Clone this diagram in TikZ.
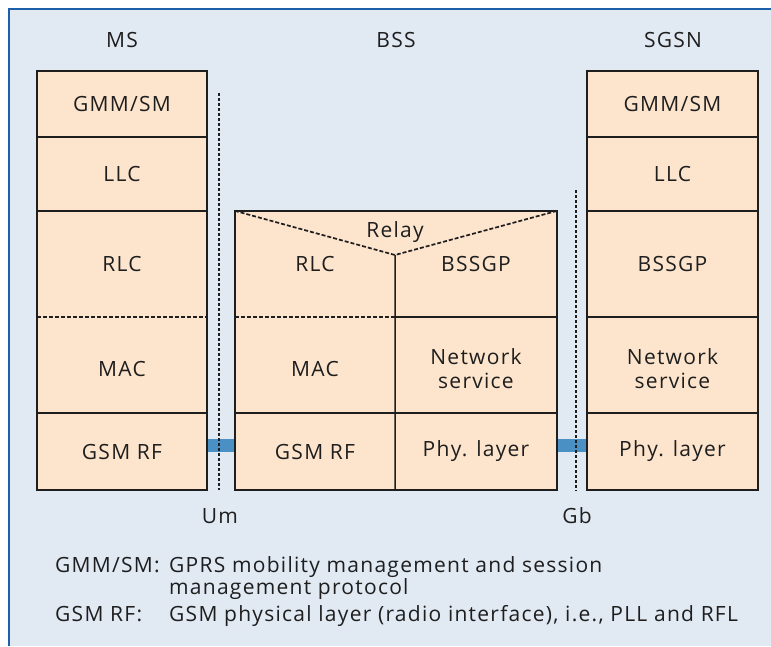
\documentclass[tikz,border=0pt]{standalone}
\usepackage{fontspec}
\setmainfont{Open Sans}[LetterSpace=6]
\definecolor{panelbg}{RGB}{225,233,243}
\definecolor{panelline}{RGB}{30,95,170}
\definecolor{layerfill}{RGB}{253,229,205}
\definecolor{linkblue}{RGB}{74,144,196}
\definecolor{ink}{RGB}{30,30,30}
\newcommand{\stacked}[2]{\raisebox{-7pt}[\height][\depth]{\begin{tabular}{@{}c@{}}#1\\#2\end{tabular}}}

\begin{document}
\begin{tikzpicture}[x=1pt,y=-1pt,
  font=\fontsize{21}{24}\selectfont,
  cell/.style={fill=layerfill,inner sep=0pt,text=ink,align=center},
  mscol/.style={cell,minimum width=170pt},
  bssleft/.style={cell,minimum width=160pt},
  bssright/.style={cell,minimum width=162pt},
  sgsncol/.style={cell,minimum width=171pt},
  edge/.style={draw=ink,line width=1.5pt},
  sepdash/.style={draw=ink,line width=1.7pt,dash pattern=on 4pt off 2pt},
  iface/.style={draw=ink,line width=1.6pt,dash pattern=on 3pt off 2pt},
  link/.style={draw=linkblue,line width=13pt},
  legend/.style={inner sep=0pt,text=ink,anchor=base west}]

  \useasboundingbox (0,0) rectangle (771,646);
  \fill[panelbg] (9,9) rectangle (771,646);
  \draw[panelline,line width=2pt] (9,646) -- (9,9) -- (771,9);

  % MS stack
  \draw (122,104) node[mscol,minimum height=66pt] (msgmm) {GMM/SM};
  \draw (122,174) node[mscol,minimum height=74pt] (msllc) {LLC};
  \draw (122,264) node[mscol,minimum height=106pt] (msrlc) {RLC};
  \draw (122,365) node[mscol,minimum height=96pt] (msmac) {\raisebox{-4pt}[\height][\depth]{MAC}};
  \draw (122,451.5) node[mscol,minimum height=77pt] (msrf) {GSM RF};

  % BSS stack
  \draw (315,264) node[bssleft,minimum height=106pt] (bssrlc) {RLC};
  \draw (315,365) node[bssleft,minimum height=96pt] (bssmac) {\raisebox{-4pt}[\height][\depth]{MAC}};
  \draw (315,451.5) node[bssleft,minimum height=77pt] (bssrf) {GSM RF};
  \draw (476,264) node[bssright,minimum height=106pt] (bssgp) {BSSGP};
  \draw (476,365) node[bssright,minimum height=96pt] (bssns) {\stacked{Network}{service}};
  \draw (476,451.5) node[bssright,minimum height=77pt] (bssphy) {Phy. layer};
  \coordinate (apex) at (395,255);

  % SGSN stack
  \draw (672.5,104) node[sgsncol,minimum height=66pt] (sggmm) {GMM/SM};
  \draw (672.5,174) node[sgsncol,minimum height=74pt] (sgllc) {LLC};
  \draw (672.5,264) node[sgsncol,minimum height=106pt] (sgbssgp) {BSSGP};
  \draw (672.5,365) node[sgsncol,minimum height=96pt] (sgns) {\stacked{Network}{service}};
  \draw (672.5,451.5) node[sgsncol,minimum height=77pt] (sgphy) {Phy. layer};

  % physical links
  \draw[link] ([yshift=6.5pt]msrf.east) -- ([yshift=6.5pt]bssrf.west);
  \draw[link] ([yshift=6.5pt]bssphy.east) -- ([yshift=6.5pt]sgphy.west);

  % outlines and layer borders
  \draw[edge] (msgmm.north west) rectangle (msrf.south east);
  \foreach \c in {msgmm,msllc,msmac}
    \draw[edge] (\c.south west) -- (\c.south east);
  \draw[sepdash] (msrlc.south west) -- (msrlc.south east);

  \draw[edge] (bssrlc.north west) rectangle (bssphy.south east);
  \foreach \c in {bssmac,bssgp,bssns}
    \draw[edge] (\c.south west) -- (\c.south east);
  \draw[sepdash] (bssrlc.south west) -- (bssrlc.south east);
  \draw[edge] (apex) -- (bssrf.south east);
  \draw[sepdash] (bssrlc.north west) -- (apex) -- (bssgp.north east);
  \draw (395,232) node[inner sep=0pt,text=ink] (relay) {Relay};

  \draw[edge] (sggmm.north west) rectangle (sgphy.south east);
  \foreach \c in {sggmm,sgllc,sgbssgp,sgns}
    \draw[edge] (\c.south west) -- (\c.south east);

  % interfaces
  \coordinate (umtop) at (219,93);
  \coordinate (gbtop) at (576,190);
  \draw[iface] (umtop) -- (umtop |- msrf.south);
  \draw[iface] (gbtop) -- (gbtop |- sgphy.south);
  \draw (220,516) node[inner sep=0pt,text=ink] (um) {Um};
  \draw (577,516) node[inner sep=0pt,text=ink] (gb) {Gb};

  % entity titles
  \draw (122,40) node[inner sep=0pt,text=ink] (ms) {MS};
  \draw (396,40) node[inner sep=0pt,text=ink] (bss) {BSS};
  \draw (673,40) node[inner sep=0pt,text=ink] (sgsn) {SGSN};

  % legend
  \draw (55,572.7) node[legend] (gmmterm) {GMM/SM:};
  \draw (169,572.7) node[legend] (gmmdef) {GPRS mobility management and session};
  \draw (169,594.3) node[legend] (gmmdefb) {management protocol};
  \draw (55,621) node[legend] (rfterm) {GSM RF:};
  \draw (169,621) node[legend] (rfdef) {GSM physical layer (radio interface), i.e., PLL and RFL};

\end{tikzpicture}
\end{document}
